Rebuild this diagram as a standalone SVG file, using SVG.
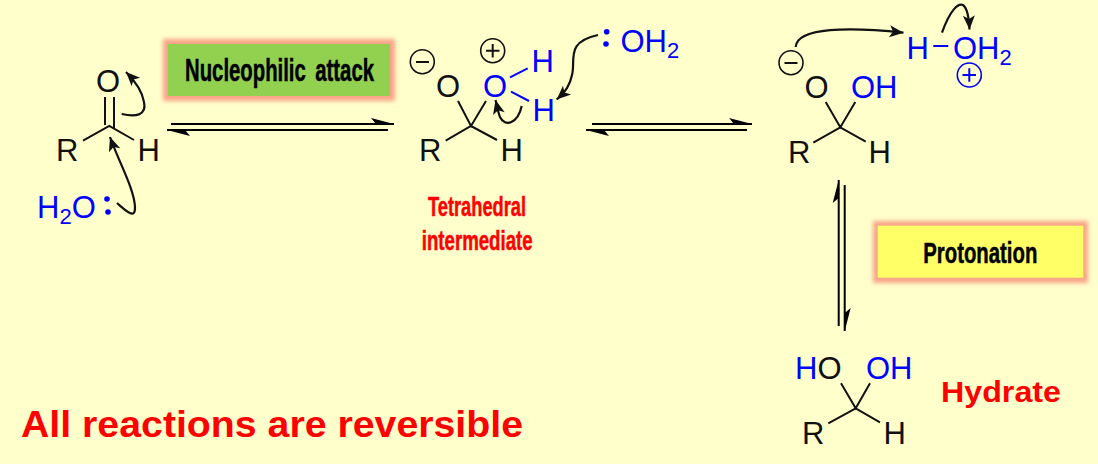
<svg xmlns="http://www.w3.org/2000/svg" width="1098" height="464" viewBox="0 0 1098 464">
<defs>
<style>
text{font-family:"Liberation Sans",Arial,sans-serif;font-size:31px;fill:#111}
.b{fill:#0000ff}
.k{fill:#111}
.sub{font-size:22px}
.bond{stroke:#111;stroke-width:2;fill:none;stroke-linecap:butt}
.bb{stroke:#0000ff;stroke-width:2;fill:none}
.curve{stroke:#111;stroke-width:2.2;fill:none;marker-end:url(#head)}
.eq{stroke:#000;stroke-width:2;fill:none}
.sign{fill:none;stroke:#111;stroke-width:1.6}
.signb{fill:none;stroke:#0000ff;stroke-width:1.6}
.lab{font-weight:bold;font-size:32px;fill:#000;stroke:#000;stroke-width:.5}
.red{font-weight:bold;fill:#ff0000}
.tet{font-size:27px;stroke:#ff0000;stroke-width:.5}
.glow{fill:#f8a488}
.dot{fill:#0000ff}
</style>
<filter id="blur" x="-15%" y="-40%" width="130%" height="180%"><feGaussianBlur stdDeviation="2"/></filter>
<marker id="head" markerUnits="userSpaceOnUse" markerWidth="16" markerHeight="14" refX="14" refY="6" orient="auto" overflow="visible"><path d="M0,0 L14,6 L0,12 L3.5,6z" fill="#111"/></marker>
<marker id="halfL" markerUnits="userSpaceOnUse" markerWidth="24" markerHeight="10" refX="23" refY="6" orient="auto" overflow="visible"><path d="M0,0 L23,6 L5,6z" fill="#000"/></marker>
</defs>
<rect width="1098" height="464" fill="#ffffcc"/>
<g id="connectors">
<path class="eq" d="M171,124H394" marker-end="url(#halfL)"/>
<path class="eq" d="M388,130H167" marker-end="url(#halfL)"/>
<path class="eq" d="M592,124H752" marker-end="url(#halfL)"/>
<path class="eq" d="M747,130H586" marker-end="url(#halfL)"/>
<path class="eq" d="M838.7,326V180" marker-end="url(#halfL)"/>
<path class="eq" d="M844.7,185V331" marker-end="url(#halfL)"/>
<path class="curve" d="M121.7,114C135,117 147,116 144,102C142,90 134,80 126,72"/>
<path class="curve" d="M117,203C125,210 135,220 135,208C135,190 118,160 110,137"/>
<path class="curve" d="M598,35C565,42 576,60 572,75C570,85 566,91 556.7,99.5"/>
<path class="curve" d="M521.7,106C518,123 505,128 500,117C498,112 497,106 495.5,100"/>
<path class="curve" d="M795.7,47C797,27 850,27 903.5,32.7"/>
<path class="curve" d="M942,32.7C950,10 958,3 963,5C967,8 969,18 969.5,29.5"/>
</g>
<g id="aldehyde">
<path class="bond" d="M83,140.7L109.3,126L134,140M105,97V125M114,97V128"/>
<text x="96" y="92">O</text><text x="56" y="161">R</text><text x="137.5" y="161">H</text>
</g>
<g id="water">
<text class="b" x="37" y="218">H<tspan class="sub" dy="6">2</tspan><tspan dy="-6">O</tspan></text>
<circle class="dot" cx="107" cy="199" r="2.8"/><circle class="dot" cx="108" cy="212" r="2.8"/>
</g>
<g id="label-nucleophilic">
<rect class="glow" x="163" y="39" width="232" height="62" filter="url(#blur)"/>
<rect x="168" y="44" width="222" height="52" fill="#92d050"/>
<text class="lab" style="word-spacing:6px" x="185" y="81" textLength="189" lengthAdjust="spacingAndGlyphs">Nucleophilic attack</text>
</g>
<g id="tetrahedral">
<path class="bond" d="M458,101L471,126L486,101M445.7,140.7L471,126L497,140"/>
<path class="bb" d="M510,77.3L527.7,68.3M511,91.7L529,101"/>
<text x="436" y="97">O</text><text class="b" x="483" y="97">O</text>
<text class="b" x="531.5" y="71.7">H</text><text class="b" x="532.5" y="120.6">H</text>
<text x="419" y="161">R</text><text x="500.5" y="161">H</text>
<circle class="sign" cx="422.3" cy="61.7" r="12"/><path class="bond" d="M416,62H429"/>
<circle class="sign" cx="492.7" cy="50.7" r="12"/><path class="bond" d="M486,50.7H499.5M492.7,44V57.5"/>
</g>
<g id="water2">
<circle class="dot" cx="606.7" cy="31.7" r="2.8"/><circle class="dot" cx="606" cy="44" r="2.8"/>
<text class="b" x="620.5" y="52">OH<tspan class="sub" dy="6">2</tspan></text>
</g>
<g id="label-tetrahedral">
<text class="red tet" x="428" y="216" textLength="98" lengthAdjust="spacingAndGlyphs">Tetrahedral</text>
<text class="red tet" x="421.7" y="250" textLength="111" lengthAdjust="spacingAndGlyphs">intermediate</text>
</g>
<g id="alkoxide">
<path class="bond" d="M825.7,102L840.3,127.3L855.3,102M813.3,142.7L840.3,127.3L865.7,141.7"/>
<text x="804.6" y="98">O</text><text class="b" x="851" y="98">OH</text>
<text x="788" y="163">R</text><text x="868.5" y="163">H</text>
<circle class="sign" cx="791" cy="62.7" r="12"/><path class="bond" d="M784.5,63H797.5"/>
</g>
<g id="hydronium">
<text class="b" x="906.5" y="59">H</text><path class="bb" d="M933.3,46H948.3"/>
<text class="b" x="953" y="59">OH<tspan class="sub" dy="6">2</tspan></text>
<circle class="signb" cx="969.3" cy="75" r="12"/><path class="bb" d="M962.5,75H976M969.3,68.3V81.8"/>
</g>
<g id="label-protonation">
<rect class="glow" x="873" y="221" width="215" height="62" filter="url(#blur)"/>
<rect x="877.7" y="225.7" width="205.6" height="52" fill="#ffff66"/>
<text class="lab" style="font-size:29px" x="923.3" y="262.5" textLength="114" lengthAdjust="spacingAndGlyphs">Protonation</text>
</g>
<g id="hydrate">
<path class="bond" d="M841,383.3L855.7,408.3L870,383.3M828.3,423.3L855.7,408.3L880,422.3"/>
<text x="795" y="379"><tspan class="b">H</tspan><tspan class="k">O</tspan></text><text class="b" x="866" y="379">OH</text>
<text x="802" y="443.5">R</text><text x="883.5" y="443.5">H</text>
</g>
<g id="label-hydrate"><text class="red" x="941" y="402" style="font-size:29px" textLength="120" lengthAdjust="spacingAndGlyphs">Hydrate</text></g>
<g id="label-reversible"><text class="red" x="21" y="437" style="font-size:36px" textLength="502" lengthAdjust="spacingAndGlyphs">All reactions are reversible</text></g>
</svg>
